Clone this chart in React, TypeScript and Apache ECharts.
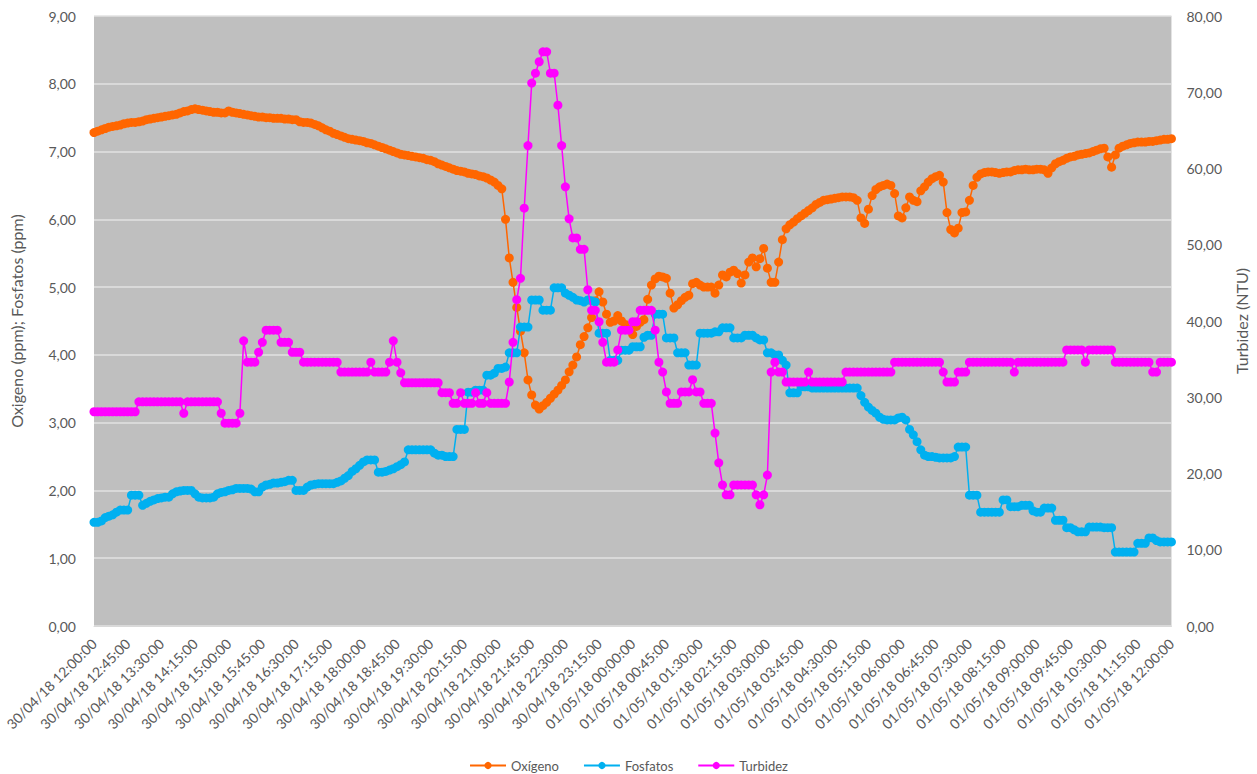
import React, { useEffect, useRef } from "react";
import * as echarts from "echarts";

const START_TIME = { y: 2018, m: 4, d: 30, h: 12, min: 0 };
const STEP_MIN = 5;
const N_POINTS = 289;

const oxigeno = [
  7.28, 7.30, 7.32, 7.34, 7.36, 7.37, 7.38, 7.39, 7.41, 7.42,
  7.43, 7.43, 7.44, 7.45, 7.47, 7.48, 7.49, 7.50, 7.51, 7.52,
  7.53, 7.54, 7.55, 7.57, 7.59, 7.60, 7.62, 7.63, 7.62, 7.61,
  7.60, 7.59, 7.58, 7.58, 7.57, 7.57, 7.60, 7.58, 7.57, 7.56,
  7.55, 7.54, 7.53, 7.52, 7.51, 7.51, 7.50, 7.50, 7.49, 7.49,
  7.49, 7.48, 7.48, 7.47, 7.47, 7.44, 7.43, 7.43, 7.42, 7.40,
  7.38, 7.35, 7.32, 7.30, 7.27, 7.25, 7.23, 7.21, 7.19, 7.18,
  7.17, 7.16, 7.15, 7.13, 7.12, 7.10, 7.08, 7.06, 7.04, 7.02,
  7.00, 6.98, 6.96, 6.95, 6.94, 6.93, 6.92, 6.91, 6.90, 6.88,
  6.87, 6.85, 6.82, 6.80, 6.78, 6.76, 6.74, 6.72, 6.71, 6.70,
  6.68, 6.67, 6.66, 6.64, 6.63, 6.61, 6.58, 6.55, 6.50, 6.45,
  6.00, 5.43, 5.07, 4.70, 4.35, 4.03, 3.63, 3.41, 3.26, 3.20,
  3.25, 3.30, 3.36, 3.42, 3.48, 3.55, 3.63, 3.75, 3.85, 3.97,
  4.15, 4.27, 4.40, 4.55, 4.80, 4.93, 4.78, 4.60, 4.48, 4.50,
  4.58, 4.50, 4.45, 4.37, 4.30, 4.42, 4.48, 4.52, 4.82, 5.03,
  5.12, 5.16, 5.15, 5.13, 4.91, 4.69, 4.74, 4.80, 4.85, 4.88,
  5.05, 5.07, 5.03, 5.00, 5.00, 5.00, 4.91, 5.03, 5.18, 5.15,
  5.22, 5.25, 5.20, 5.06, 5.18, 5.37, 5.43, 5.30, 5.42, 5.57,
  5.28, 5.07, 5.07, 5.37, 5.70, 5.86, 5.92, 5.96, 6.01, 6.05,
  6.09, 6.13, 6.17, 6.22, 6.25, 6.28, 6.29, 6.30, 6.31, 6.32,
  6.33, 6.33, 6.33, 6.32, 6.28, 6.02, 5.94, 6.15, 6.35, 6.44,
  6.48, 6.50, 6.52, 6.50, 6.38, 6.05, 6.02, 6.17, 6.33, 6.28,
  6.26, 6.42, 6.48, 6.55, 6.60, 6.63, 6.65, 6.55, 6.10, 5.85,
  5.80, 5.87, 6.10, 6.11, 6.28, 6.50, 6.62, 6.67, 6.69, 6.70,
  6.70, 6.69, 6.68, 6.69, 6.70, 6.70, 6.72, 6.73, 6.73, 6.74,
  6.73, 6.73, 6.74, 6.74, 6.73, 6.68, 6.76, 6.82, 6.85, 6.87,
  6.90, 6.92, 6.93, 6.95, 6.96, 6.97, 6.98, 7.00, 7.02, 7.04,
  7.05, 6.92, 6.77, 6.95, 7.05, 7.08, 7.10, 7.12, 7.13, 7.14,
  7.14, 7.14, 7.15, 7.15, 7.16, 7.17, 7.18, 7.18, 7.19,
];

const fosfatos = [
  1.53, 1.53, 1.55, 1.60, 1.62, 1.64, 1.68, 1.71, 1.71, 1.71,
  1.93, 1.93, 1.93, 1.78, 1.81, 1.84, 1.86, 1.88, 1.89, 1.90,
  1.90, 1.95, 1.98, 1.99, 2.00, 2.00, 2.00, 1.95, 1.90, 1.89,
  1.89, 1.89, 1.90, 1.95, 1.97, 1.98, 2.00, 2.01, 2.03, 2.03,
  2.03, 2.03, 2.02, 1.98, 1.98, 2.05, 2.08, 2.09, 2.11, 2.11,
  2.12, 2.13, 2.15, 2.15, 2.00, 2.00, 2.00, 2.05, 2.08, 2.09,
  2.10, 2.10, 2.10, 2.10, 2.10, 2.12, 2.14, 2.18, 2.22, 2.28,
  2.32, 2.37, 2.42, 2.45, 2.45, 2.45, 2.27, 2.27, 2.28, 2.30,
  2.32, 2.35, 2.38, 2.42, 2.60, 2.60, 2.60, 2.60, 2.60, 2.60,
  2.60, 2.55, 2.52, 2.52, 2.50, 2.50, 2.50, 2.90, 2.90, 2.90,
  3.45, 3.45, 3.48, 3.48, 3.48, 3.70, 3.70, 3.73, 3.80, 3.80,
  3.82, 4.03, 4.03, 4.03, 4.41, 4.41, 4.41, 4.81, 4.81, 4.81,
  4.66, 4.66, 4.66, 4.99, 4.99, 4.99, 4.91, 4.88, 4.85, 4.81,
  4.80, 4.78, 4.81, 4.80, 4.78, 4.32, 4.32, 4.32, 3.92, 3.92,
  3.92, 4.07, 4.07, 4.07, 4.12, 4.12, 4.12, 4.26, 4.29, 4.29,
  4.60, 4.60, 4.60, 4.25, 4.25, 4.25, 4.03, 4.03, 4.03, 3.85,
  3.85, 3.85, 4.32, 4.32, 4.32, 4.32, 4.34, 4.34, 4.40, 4.40,
  4.40, 4.25, 4.25, 4.25, 4.29, 4.29, 4.29, 4.25, 4.22, 4.22,
  4.03, 4.03, 4.00, 4.00, 3.92, 3.85, 3.44, 3.44, 3.44, 3.53,
  3.53, 3.53, 3.51, 3.51, 3.51, 3.51, 3.51, 3.51, 3.51, 3.51,
  3.51, 3.51, 3.51, 3.51, 3.51, 3.40, 3.30, 3.23, 3.18, 3.14,
  3.08, 3.05, 3.04, 3.04, 3.04, 3.07, 3.08, 3.04, 2.90, 2.82,
  2.72, 2.60, 2.52, 2.50, 2.50, 2.49, 2.48, 2.48, 2.48, 2.48,
  2.50, 2.64, 2.64, 2.64, 1.93, 1.93, 1.93, 1.68, 1.68, 1.68,
  1.68, 1.68, 1.68, 1.86, 1.86, 1.76, 1.76, 1.76, 1.78, 1.78,
  1.78, 1.70, 1.68, 1.68, 1.74, 1.74, 1.74, 1.56, 1.56, 1.56,
  1.45, 1.45, 1.42, 1.39, 1.39, 1.39, 1.46, 1.46, 1.46, 1.46,
  1.45, 1.45, 1.45, 1.09, 1.09, 1.09, 1.09, 1.09, 1.09, 1.22,
  1.22, 1.22, 1.30, 1.30, 1.26, 1.24, 1.24, 1.24, 1.24,
];

const turbidez = [
  28.1, 28.1, 28.1, 28.1, 28.1, 28.1, 28.1, 28.1, 28.1, 28.1,
  28.1, 28.1, 29.4, 29.4, 29.4, 29.4, 29.4, 29.4, 29.4, 29.4,
  29.4, 29.4, 29.4, 29.4, 27.9, 29.4, 29.4, 29.4, 29.4, 29.4,
  29.4, 29.4, 29.4, 29.4, 27.9, 26.6, 26.6, 26.6, 26.6, 27.9,
  37.4, 34.6, 34.6, 34.6, 35.9, 37.2, 38.8, 38.8, 38.8, 38.8,
  37.2, 37.2, 37.2, 35.9, 35.9, 35.9, 34.6, 34.6, 34.6, 34.6,
  34.6, 34.6, 34.6, 34.6, 34.6, 34.6, 33.3, 33.3, 33.3, 33.3,
  33.3, 33.3, 33.3, 33.3, 34.6, 33.3, 33.3, 33.3, 33.3, 34.6,
  37.4, 34.6, 33.2, 31.9, 31.9, 31.9, 31.9, 31.9, 31.9, 31.9,
  31.9, 31.9, 31.9, 30.6, 30.6, 30.6, 29.2, 29.2, 30.6, 29.2,
  29.2, 29.2, 30.6, 29.2, 29.2, 30.6, 29.2, 29.2, 29.2, 29.2,
  29.2, 32.0, 37.2, 42.8, 45.6, 54.8, 63.0, 71.2, 72.5, 74.0,
  75.3, 75.3, 72.5, 72.5, 68.3, 63.0, 57.6, 53.4, 50.9, 50.9,
  49.4, 49.4, 44.1, 41.4, 41.4, 39.9, 37.2, 34.6, 34.6, 34.6,
  36.2, 38.8, 38.8, 38.8, 39.9, 39.9, 41.4, 41.4, 41.4, 41.4,
  38.8, 34.6, 33.3, 30.7, 29.2, 29.2, 29.2, 30.7, 30.7, 30.7,
  32.3, 30.7, 30.7, 29.2, 29.2, 29.2, 25.3, 21.4, 18.5, 17.2,
  17.2, 18.5, 18.5, 18.5, 18.5, 18.5, 18.5, 17.2, 15.9, 17.2,
  19.8, 33.3, 34.6, 33.3, 33.3, 32.0, 32.0, 32.0, 32.0, 32.0,
  32.0, 33.3, 32.0, 32.0, 32.0, 32.0, 32.0, 32.0, 32.0, 32.0,
  32.0, 33.3, 33.3, 33.3, 33.3, 33.3, 33.3, 33.3, 33.3, 33.3,
  33.3, 33.3, 33.3, 33.3, 34.6, 34.6, 34.6, 34.6, 34.6, 34.6,
  34.6, 34.6, 34.6, 34.6, 34.6, 34.6, 34.6, 33.3, 32.0, 32.0,
  32.0, 33.3, 33.3, 33.3, 34.6, 34.6, 34.6, 34.6, 34.6, 34.6,
  34.6, 34.6, 34.6, 34.6, 34.6, 34.6, 33.3, 34.6, 34.6, 34.6,
  34.6, 34.6, 34.6, 34.6, 34.6, 34.6, 34.6, 34.6, 34.6, 34.6,
  36.2, 36.2, 36.2, 36.2, 36.2, 34.6, 36.2, 36.2, 36.2, 36.2,
  36.2, 36.2, 36.2, 34.6, 34.6, 34.6, 34.6, 34.6, 34.6, 34.6,
  34.6, 34.6, 34.6, 33.3, 33.3, 34.6, 34.6, 34.6, 34.6,
];

const SERIES_NAMES = ["Oxígeno", "Fosfatos", "Turbidez"];
const SERIES_COLORS = ["#FF6600", "#00B0F0", "#FF00FF"];
const LEFT_AXIS_NAME = "Oxigeno (ppm); Fosfatos (ppm)";
const RIGHT_AXIS_NAME = "Turbidez (NTU)";

function pad(n: number) {
  return n < 10 ? "0" + n : "" + n;
}

function buildCategories(): string[] {
  const out: string[] = [];
  const base = new Date(START_TIME.y, START_TIME.m - 1, START_TIME.d, START_TIME.h, START_TIME.min, 0);
  for (let i = 0; i < N_POINTS; i++) {
    const t = new Date(base.getTime() + i * STEP_MIN * 60000);
    out.push(
      `${pad(t.getDate())}/${pad(t.getMonth() + 1)}/${pad(t.getFullYear() % 100)} ${pad(t.getHours())}:${pad(t.getMinutes())}:00`
    );
  }
  return out;
}

const fmt = (v: number) => v.toFixed(2).replace(".", ",");

export default function App() {
  const ref = useRef<HTMLDivElement>(null);
  useEffect(() => {
    if (!ref.current) return;
    const chart = echarts.init(ref.current, null, { renderer: "svg" });
    const categories = buildCategories();
    const font = "Lato, 'Open Sans', sans-serif";
    const textColor = "#595959";
    const dataSets = [oxigeno, fosfatos, turbidez];
    chart.setOption({
      animation: false,
      backgroundColor: "#ffffff",
      textStyle: { fontFamily: font },
      grid: {
        left: 90,
        right: 85,
        top: 16,
        bottom: 148,
        show: true,
        backgroundColor: "#BFBFBF",
        borderWidth: 0,
        containLabel: false,
      },
      legend: {
        data: SERIES_NAMES,
        left: "center",
        top: 754,
        itemWidth: 36,
        itemHeight: 9,
        itemGap: 24,
        textStyle: { color: textColor, fontSize: 13, fontFamily: font },
      },
      xAxis: {
        type: "category",
        data: categories,
        boundaryGap: false,
        axisLine: { show: true, lineStyle: { color: "#D9D9D9", width: 1 } },
        axisTick: { show: false },
        splitLine: { show: false },
        axisLabel: {
          interval: 8,
          rotate: 45,
          color: textColor,
          fontSize: 14,
          margin: 15,
          fontFamily: font,
        },
      },
      yAxis: [
        {
          type: "value",
          min: 0,
          max: 9,
          interval: 1,
          name: LEFT_AXIS_NAME,
          nameLocation: "middle",
          nameGap: 70,
          nameTextStyle: { color: textColor, fontSize: 16, fontFamily: font },
          axisLine: { show: false },
          axisTick: { show: false },
          splitLine: { show: true, lineStyle: { color: "#E2E2E2", width: 1.5 } },
          axisLabel: { color: textColor, fontSize: 14, margin: 18, formatter: fmt, fontFamily: font },
        },
        {
          type: "value",
          min: 0,
          max: 80,
          interval: 10,
          name: RIGHT_AXIS_NAME,
          nameLocation: "middle",
          nameGap: 60,
          nameTextStyle: { color: textColor, fontSize: 16, fontFamily: font },
          axisLine: { show: false },
          axisTick: { show: false },
          splitLine: { show: false },
          axisLabel: { color: textColor, fontSize: 14, margin: 15, formatter: fmt, fontFamily: font },
        },
      ],
      series: SERIES_NAMES.map((name, k) => ({
        name,
        type: "line",
        yAxisIndex: k === 2 ? 1 : 0,
        data: dataSets[k],
        symbol: "circle",
        symbolSize: 9,
        showSymbol: true,
        showAllSymbol: true,
        itemStyle: { color: SERIES_COLORS[k] },
        lineStyle: { color: SERIES_COLORS[k], width: 1.5 },
        z: 2 + k,
      })),
    });
    return () => chart.dispose();
  }, []);
  return (
    <div
      ref={ref}
      style={{ position: "fixed", left: 0, top: 0, width: "1257px", height: "774px" }}
    />
  );
}
